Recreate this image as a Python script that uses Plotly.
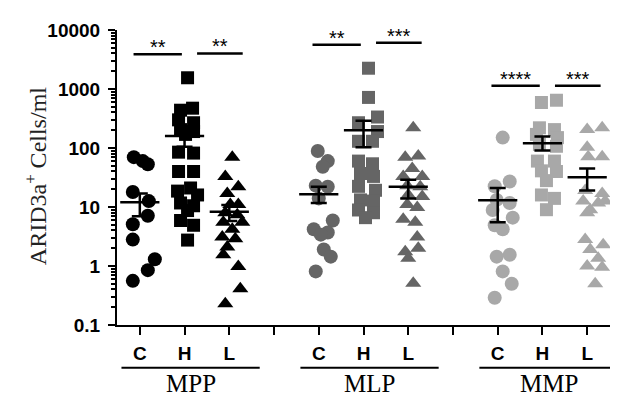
import math
import plotly.graph_objects as go

# ---------------- data ----------------
groups = ["MPP", "MLP", "MMP"]
subcats = ["C", "H", "L"]
tick_positions = [1, 2, 3, 5, 6, 7, 9, 10, 11]
tick_labels = ["C", "H", "L", "C", "H", "L", "C", "H", "L"]

mpp_c = [70, 60, 53, 18, 12.6, 7.1, 5.1, 2.8, 1.3, 0.85, 0.56]
mpp_c_dx = [-6, 3, 8, -7, 9, 8, -7, -7, 15, 8, -7]
mpp_h = [1550, 473, 437, 300, 268, 205, 190, 170, 85, 82, 40, 40, 21, 18.6, 16, 11.7, 10.5, 8.7, 5.9, 4.9, 2.75]
mpp_h_dx = [3, 8, -4, -6, 9, -4, 9, 1, -6, 9, -6, 9, 6, -7, 13, -4, 9, 3, -4, 9, 3]
mpp_l = [70, 33, 22, 17, 11, 11, 8, 7.4, 5.5, 5.5, 4.2, 3.1, 2.9, 2.1, 1.55, 0.98, 0.41, 0.23]
mpp_l_dx = [3, -4, 9, -2, 1, 9, -4, 8, 13, -6, 3, -7, 6, -2, -6, 9, 11, -4]

mlp_c = [89, 60, 48, 23, 22, 14, 5.9, 4.2, 3.7, 3.4, 1.9, 1.44, 0.81]
mlp_c_dx = [-1, 9, 4, -3, 9, 0, 14, -5, 9, 2, 5, 12, -3]
mlp_h = [2250, 720, 335, 268, 190, 130, 130, 60, 54, 37, 33, 22.4, 19.2, 13.2, 12.6, 8.9, 8, 6.6]
mlp_h_dx = [5, 5, 14, -5, 14, -5, 9, -5, 9, -3, 10, -5, 12, -3, 10, -5, 10, 2]
mlp_l = [220, 70, 73, 45, 33, 33, 23, 22, 16, 15, 11, 9.8, 6.2, 5.5, 3.1, 2.0, 1.75, 1.35, 0.51]
mlp_l_dx = [5, -3, 10, 4, -5, 14, -1, 12, 0, 14, -1, 9, -5, 7, 9, 10, -3, 0, 5]

mmp_c = [150, 27, 22.5, 13.2, 11.7, 8.9, 6.6, 4.9, 4.2, 1.55, 1.44, 0.81, 0.5, 0.29]
mmp_c_dx = [5, 12, -3, -1, 12, -5, 15, -3, 5, 12, -1, 5, 14, -3]
mmp_h = [590, 645, 220, 205, 170, 150, 115, 107, 60, 60, 41, 40, 28, 16, 14, 9]
mmp_h_dx = [-1, 14, -3, 12, -6, 15, -3, 14, -5, 12, -1, 14, 4, -1, 12, 4]
mmp_l = [205, 220, 103, 71, 71, 19, 17, 12.6, 11.7, 12.6, 9, 8, 2.8, 2.3, 1.9, 1.35, 1.0, 0.95, 0.5]
mmp_l_dx = [0, 15, 0, 1, 15, -2, 15, -4, 11, 18, 3, 0, -2, 16, 3, 11, 0, 15, 8]

# mean and error bar ends (C, H, L per group)
means = [[12, 160, 8.3], [16.5, 200, 22], [13, 120, 32]]
err_hi = [[17, 215, 10.8], [22, 290, 29], [21, 157, 45]]
err_lo = [[7, 105, 5.8], [11.7, 103, 14], [5.5, 91, 19]]

# significance comparisons: (group, from-cat, to-cat, label, bar level)
sig_tests = [
    (0, 0, 1, "**", 3900), (0, 1, 2, "**", 4000),
    (1, 0, 1, "**", 5600), (1, 1, 2, "***", 6100),
    (2, 0, 1, "****", 1140), (2, 1, 2, "***", 1140),
]

series = [[(mpp_c, mpp_c_dx), (mpp_h, mpp_h_dx), (mpp_l, mpp_l_dx)],
          [(mlp_c, mlp_c_dx), (mlp_h, mlp_h_dx), (mlp_l, mlp_l_dx)],
          [(mmp_c, mmp_c_dx), (mmp_h, mmp_h_dx), (mmp_l, mmp_l_dx)]]

colors = ["#000000", "#656565", "#a8a8a8"]
symbols = ["circle", "square", "triangle-up"]
sizes = [14, 13, 14]
PX_PER_UNIT = 44.7

fig = go.Figure()

for gi, g in enumerate(groups):
    base = 1 + gi * 4
    for ci, c in enumerate(subcats):
        vals, dx = series[gi][ci]
        pos = base + ci
        fig.add_trace(go.Scatter(
            x=[pos + d / PX_PER_UNIT for d in dx], y=vals, mode="markers",
            marker=dict(symbol=symbols[ci], size=sizes[ci], color=colors[gi], line=dict(width=0)),
            showlegend=False, hoverinfo="y"))
    for ci in range(3):
        pos = base + ci
        m = means[gi][ci]
        fig.add_trace(go.Scatter(
            x=[pos], y=[m], mode="markers",
            marker=dict(symbol="line-ew", size=28, line=dict(width=2.5, color="black")),
            error_y=dict(type="data", symmetric=False, array=[err_hi[gi][ci] - m],
                         arrayminus=[m - err_lo[gi][ci]], color="black", thickness=2.5, width=8),
            showlegend=False, hoverinfo="skip"))

annotations = []
shapes = []
for gi, a, b, lab, lvl in sig_tests:
    base = 1 + gi * 4
    x0 = base + a + (-0.14 if a == 0 else 0.28)
    x1 = base + b + (-0.06 if a == 0 else 0.3)
    fig.add_trace(go.Scatter(x=[x0, x1], y=[lvl, lvl], mode="lines",
                             line=dict(color="black", width=2.5), showlegend=False, hoverinfo="skip"))
    annotations.append(dict(x=(x0 + x1) / 2, y=math.log10(lvl), xref="x", yref="y", text=lab,
                            showarrow=False, yanchor="bottom", yshift=-6,
                            font=dict(family="Liberation Sans, Arial", size=20, color="black")))

for gi, g in enumerate(groups):
    base = 1 + gi * 4
    shapes.append(dict(type="line", xref="x", yref="paper", x0=base - 0.41, x1=base + 2.68,
                       y0=-0.145, y1=-0.145, line=dict(color="black", width=2)))
    annotations.append(dict(x=base + 1.14, y=-0.198, xref="x", yref="paper", text=g,
                            showarrow=False, yanchor="middle", xanchor="center",
                            font=dict(family="Liberation Serif, Times New Roman", size=25, color="black")))

annotations.append(dict(x=-0.164, y=0.505, xref="paper", yref="paper", textangle=-90,
                        xanchor="center", yanchor="middle",
                        text="ARID3a<sup>+</sup> Cells/ml", showarrow=False,
                        font=dict(family="Liberation Serif, Times New Roman", size=24, color="#222222")))

# the page body adds an 8px offset, so the figure is 8px smaller than the window
fig.update_layout(
    width=621, height=391,
    margin=dict(l=109, r=19, t=14, b=74),
    paper_bgcolor="white", plot_bgcolor="white",
    annotations=annotations, shapes=shapes,
    xaxis=dict(range=[0.49, 11.51], tickmode="array", tickvals=tick_positions,
               ticktext=tick_labels, showgrid=False, zeroline=False,
               showline=True, linecolor="black", linewidth=2,
               ticks="outside", ticklen=8, tickwidth=2, tickcolor="black",
               ticklabelstandoff=2,
               minor=dict(ticks="outside", ticklen=8, tickwidth=2, tickcolor="black",
                          tick0=0, dtick=1, showgrid=False),
               tickfont=dict(family="Liberation Sans, Arial", size=19, color="black", weight="bold")),
    yaxis=dict(type="log", range=[-1, 4], tickvals=[0.1, 1, 10, 100, 1000, 10000],
               ticktext=["0.1", "1", "10", "100", "1000", "10000"],
               showgrid=False, zeroline=False, showline=True, linecolor="black", linewidth=2,
               ticks="outside", ticklen=7, tickwidth=2, tickcolor="black",
               ticklabelstandoff=4,
               minor=dict(ticks="outside", ticklen=4, tickwidth=1.5, tickcolor="black", dtick="D1", showgrid=False),
               tickfont=dict(family="Liberation Sans, Arial", size=19, color="black", weight="bold")),
)

fig.write_html("out.html")
